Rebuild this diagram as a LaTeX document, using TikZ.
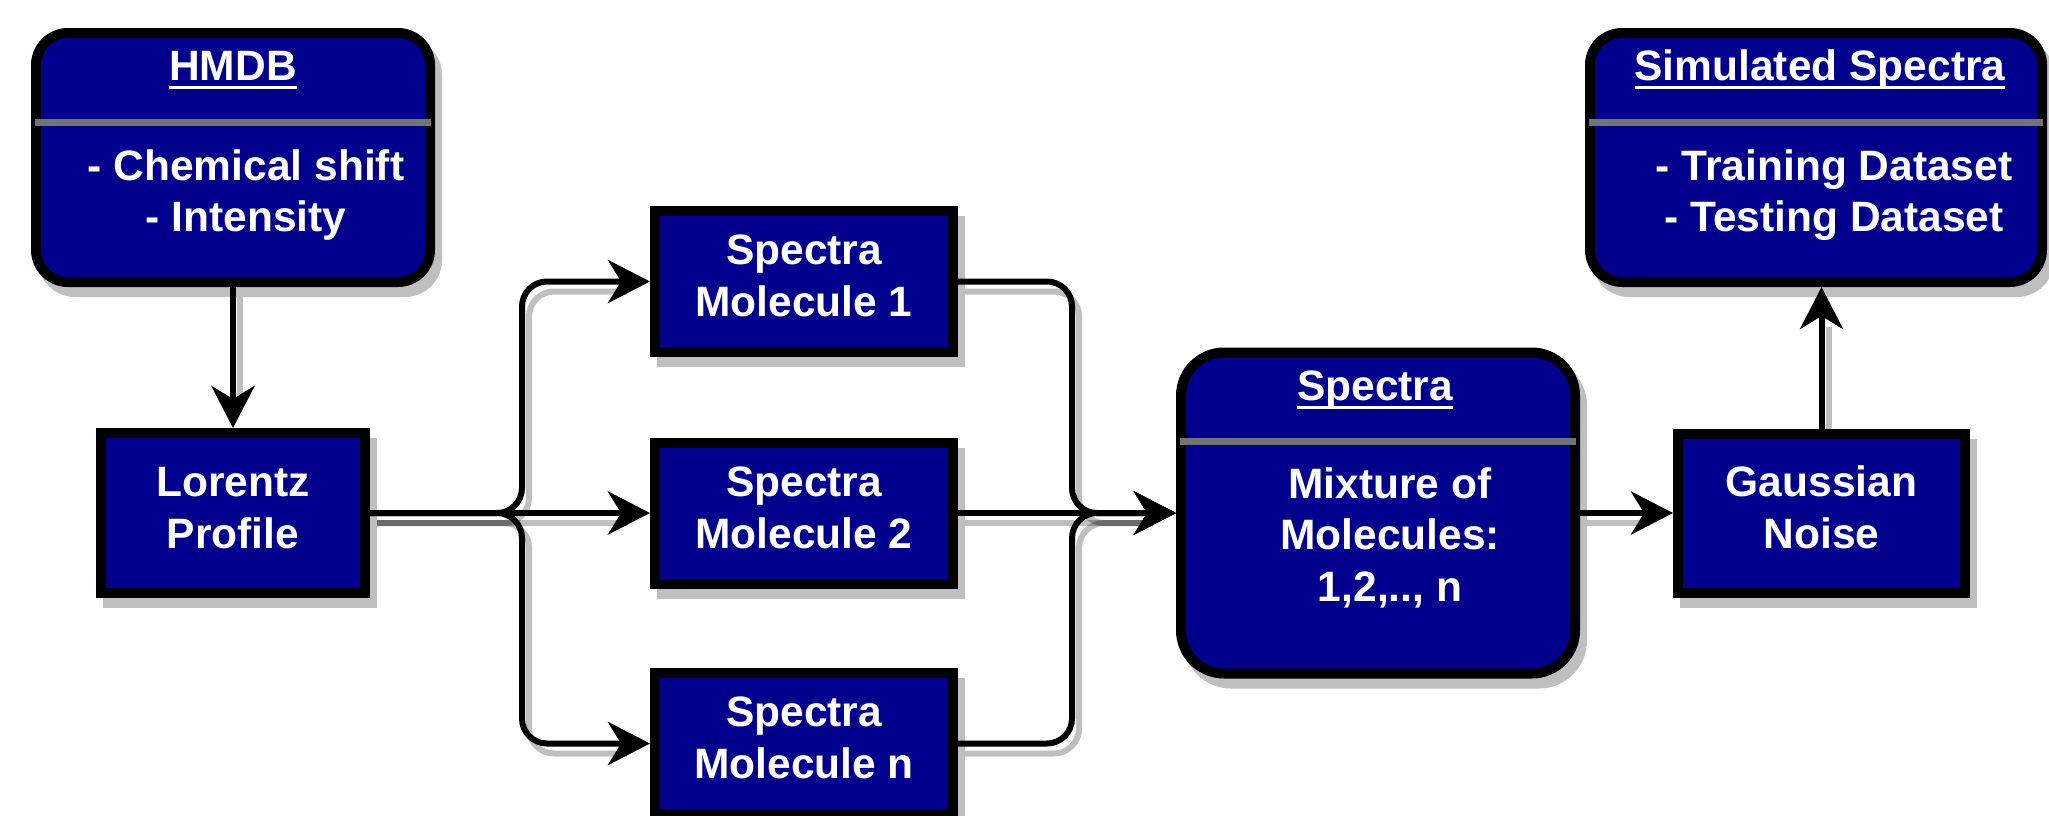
\documentclass[tikz,border=0pt]{standalone}
\usepackage{fontspec}
\setmainfont{Liberation Sans}
\usetikzlibrary{arrows.meta,calc}
\definecolor{boxblue}{RGB}{0,0,140}
\definecolor{divgray}{RGB}{115,115,115}
\newcommand\titleul[1]{\setbox0\hbox{#1}\rlap{\rule[-8.5pt]{\wd0}{3pt}}\box0}
\pgfdeclarelayer{shadow}
\pgfsetlayers{shadow,main}
\begin{document}
\begin{tikzpicture}[x=1pt,y=-1pt,
  plainbox/.style={draw=black,line width=10pt,fill=boxblue,inner sep=0pt},
  roundbox/.style={plainbox},
  txt/.style={text=white,font=\bfseries\fontsize{42.5}{51}\selectfont,inner sep=0pt,anchor=base},
  conn/.style={line width=6pt,-{Stealth[length=42pt,width=43pt,inset=13pt]},rounded corners=25pt},
  shadowline/.style={line width=6pt,black,opacity=0.25,rounded corners=25pt,shorten >=30pt},
  boxshadow/.style={fill=black,opacity=0.25},
  divider/.style={draw=divgray,line width=7pt}]
\useasboundingbox (0,0) rectangle (2049,815);

% boxes
\node[roundbox,rounded corners=32pt,minimum width=394pt,minimum height=249pt] (hmdb) at (233,157.5) {};
\node[plainbox,minimum width=264pt,minimum height=160pt] (lor) at (233,513) {};
\node[plainbox,minimum width=298pt,minimum height=141pt] (m1) at (804,281.5) {};
\node[plainbox,minimum width=298pt,minimum height=141pt] (m2) at (804,513) {};
\node[plainbox,minimum width=298pt,minimum height=141pt] (mn) at (804,743.5) {};
\node[roundbox,rounded corners=43pt,minimum width=394pt,minimum height=321pt] (spec) at (1378,513) {};
\node[plainbox,minimum width=287pt,minimum height=159pt] (gau) at (1821.5,513) {};
\node[roundbox,rounded corners=32pt,minimum width=452pt,minimum height=249pt] (sim) at (1816,157.5) {};

\coordinate (fork) at (522,513);
\coordinate (merge) at (1072,513);

% shadows
\begin{pgfonlayer}{shadow}
  \foreach \n in {lor,m1,m2,mn,gau}
    \fill[boxshadow] ($(\n.north west)+(7,10)$) rectangle ($(\n.south east)+(7,10)$);
  \fill[boxshadow,rounded corners=37pt] ($(hmdb.north west)+(7,10)$) rectangle ($(hmdb.south east)+(7,10)$);
  \fill[boxshadow,rounded corners=37pt] ($(sim.north west)+(7,10)$) rectangle ($(sim.south east)+(7,10)$);
  \fill[boxshadow,rounded corners=48pt] ($(spec.north west)+(7,10)$) rectangle ($(spec.south east)+(7,10)$);
  \begin{scope}[transform canvas={xshift=7pt,yshift=-10pt}]
    \draw[shadowline] (hmdb.south) -- (lor.north);
    \draw[shadowline] (lor.east) -- (fork) |- (m1.west);
    \draw[shadowline] (lor.east) -- (m2.west);
    \draw[shadowline] (lor.east) -- (fork) |- (mn.west);
    \draw[shadowline] (m1.east) -| (merge) -- (spec.west);
    \draw[shadowline] (m2.east) -- (spec.west);
    \draw[shadowline] (mn.east) -| (merge) -- (spec.west);
    \draw[shadowline] (spec.east) -- (gau.west);
    \draw[shadowline] (gau.north) -- (gau.north |- sim.south);
  \end{scope}
\end{pgfonlayer}

% connectors
\draw[conn] (hmdb.south) -- (lor.north);
\draw[conn] (lor.east) -- (fork) |- (m1.west);
\draw[conn] (lor.east) -- (m2.west);
\draw[conn] (lor.east) -- (fork) |- (mn.west);
\draw[conn] (m1.east) -| (merge) -- (spec.west);
\draw[conn] (m2.east) -- (spec.west);
\draw[conn] (mn.east) -| (merge) -- (spec.west);
\draw[conn] (spec.east) -- (gau.west);
\draw[conn] (gau.north) -- (gau.north |- sim.south);

% dividers
\draw[divider] ([xshift=4pt,yshift=-94pt]hmdb.north west) -- ([xshift=-4pt,yshift=-94pt]hmdb.north east);
\draw[divider] ([xshift=4pt,yshift=-94pt]spec.north west) -- ([xshift=-4pt,yshift=-94pt]spec.north east);
\draw[divider] ([xshift=4pt,yshift=-94pt]sim.north west) -- ([xshift=-4pt,yshift=-94pt]sim.north east);

% texts
\node[txt] (hmdbT) at ($(hmdb.north)+(0,52)$) {\titleul{HMDB}};
\node[txt] (hmdbA) at ($(hmdb.north)+(13,152)$) {- Chemical shift};
\node[txt] (hmdbB) at ($(hmdb.north)+(13,203)$) {- Intensity};

\node[txt] (lorA) at ($(lor.center)+(0,-17)$) {Lorentz};
\node[txt] (lorB) at ($(lor.center)+(0,35)$) {Profile};

\node[txt] (m1A) at ($(m1.center)+(0,-17)$) {Spectra};
\node[txt] (m1B) at ($(m1.center)+(0,35)$) {Molecule 1};
\node[txt] (m2A) at ($(m2.center)+(0,-17)$) {Spectra};
\node[txt] (m2B) at ($(m2.center)+(0,35)$) {Molecule 2};
\node[txt] (mnA) at ($(mn.center)+(0,-17)$) {Spectra};
\node[txt] (mnB) at ($(mn.center)+(0,35)$) {Molecule n};

\node[txt] (specT) at ($(spec.north)+(-3,53)$) {\titleul{Spectra}};
\node[txt] (specA) at ($(spec.north)+(12,151)$) {Mixture of};
\node[txt] (specB) at ($(spec.north)+(12,202)$) {Molecules:};
\node[txt] (specC) at ($(spec.north)+(12,254)$) {1,2,.., n};

\node[txt] (gauA) at ($(gau.center)+(0,-17)$) {Gaussian};
\node[txt] (gauB) at ($(gau.center)+(0,35)$) {Noise};

\node[txt] (simT) at ($(sim.north)+(4,52)$) {\titleul{Simulated Spectra}};
\node[txt] (simA) at ($(sim.north)+(18,152)$) {- Training Dataset};
\node[txt] (simB) at ($(sim.north)+(18,203)$) {- Testing Dataset};
\end{tikzpicture}
\end{document}
